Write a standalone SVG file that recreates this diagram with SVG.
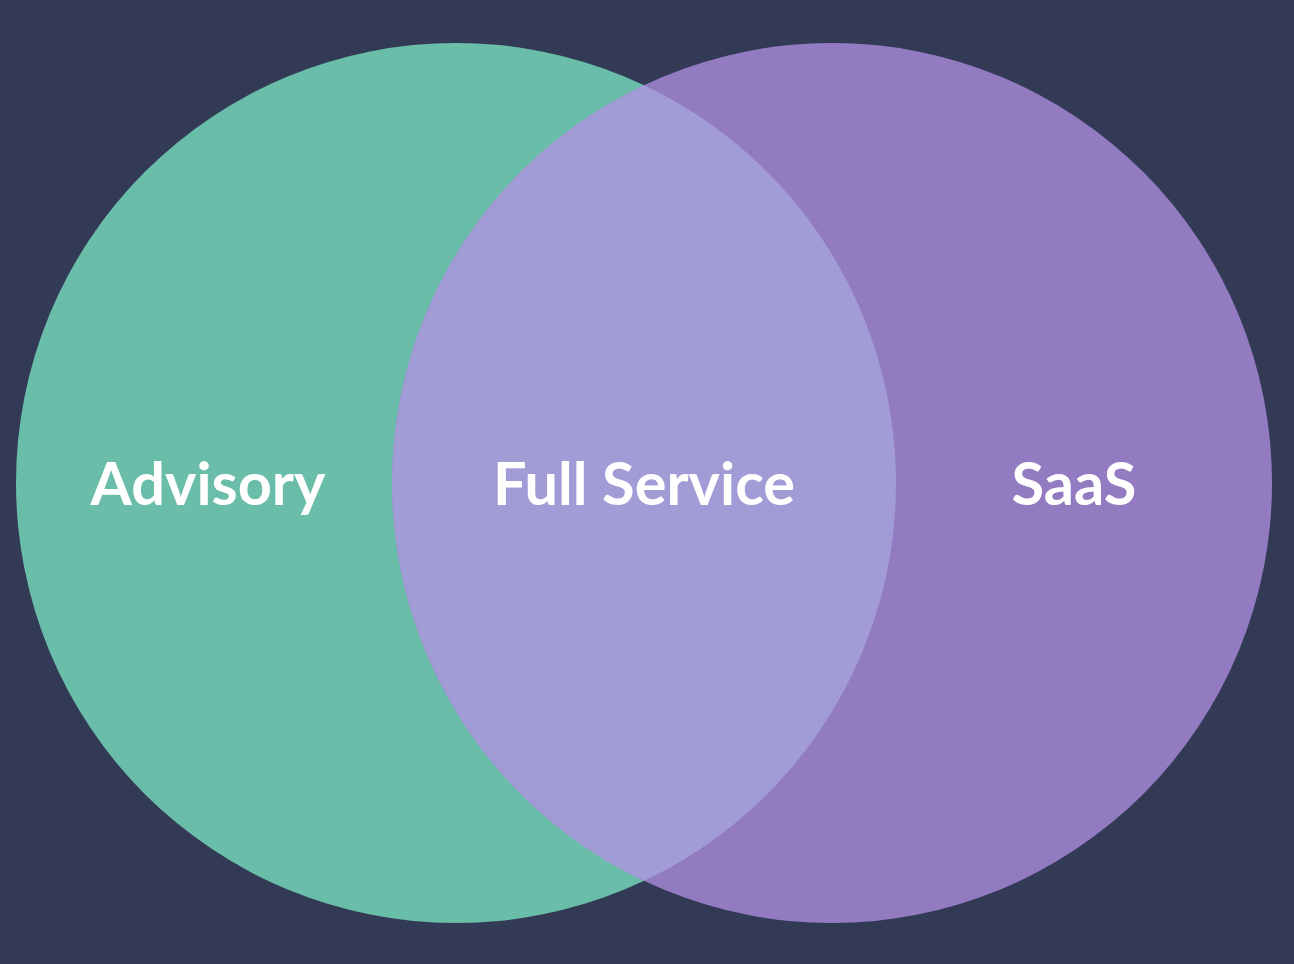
<svg xmlns="http://www.w3.org/2000/svg" width="1294" height="964" viewBox="0 0 1294 964">
<style>
.lbl{font-family:Lato,"Open Sans","Liberation Sans",sans-serif;font-weight:700;font-size:59.5px;fill:#ffffff;text-anchor:middle}
</style>
<rect width="1294" height="964" fill="#323A56"/>
<g id="advisory">
<circle cx="456" cy="483" r="440" fill="#6ABDA8"/>
<text class="lbl" x="208" y="505">Advisory</text>
</g>
<g id="saas">
<circle cx="832" cy="483" r="440" fill="#937BC1"/>
<text class="lbl" x="1074" y="505">SaaS</text>
</g>
<g id="full-service">
<path d="M644 85.2 A440 440 0 0 1 644 880.8 A440 440 0 0 1 644 85.2 Z" fill="#A19CD6"/>
<text class="lbl" x="644" y="505">Full Service</text>
</g>
<g id="connectors"/>
</svg>
